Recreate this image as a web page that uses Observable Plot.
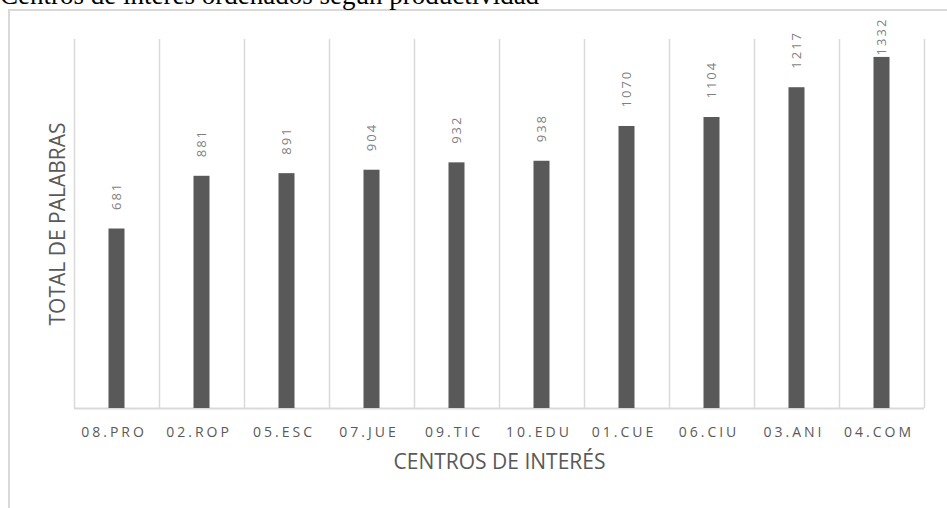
<!DOCTYPE html>
<html><head><meta charset="utf-8">
<script src="https://cdn.jsdelivr.net/npm/d3@7"></script>
<script src="https://cdn.jsdelivr.net/npm/@observablehq/plot@0.6"></script>
<style>
html,body{margin:0;padding:0;background:#fff;overflow:hidden;width:947px;height:508px}
#wrap{position:relative;width:947px;height:508px;overflow:hidden}
#frame{position:absolute;left:8px;top:9px;width:2000px;height:2000px;border-left:2px solid #d9d9d9;border-top:2px solid #d9d9d9}
#title{position:absolute;left:0;top:-18px;font:27px/27px "Liberation Serif",serif;color:#000;white-space:nowrap}
#chart{position:absolute;left:0;top:0}
#chart g[aria-label="x-axis tick label"] text{letter-spacing:3px}
</style></head><body>
<div id="wrap"><div id="frame"></div><div id="title">Centros de interés ordenados según productividad</div><div id="chart"></div></div>
<script>
const categories = ["08.PRO","02.ROP","05.ESC","07.JUE","09.TIC","10.EDU","01.CUE","06.CIU","03.ANI","04.COM"];
const values = [681, 881, 891, 904, 932, 938, 1070, 1104, 1217, 1332];
const yDomain = [0, 1400];
const xTitle = "CENTROS DE INTERÉS";
const yTitle = "TOTAL DE PALABRAS";

const data = categories.map((c, i) => ({cat: c, value: values[i]}));
const W = 947, H = 508, mL = 74, mR = 23;
const step = (W - mL - mR) / categories.length;
const barW = 16;
const grid = {stroke: "#d9d9d9", strokeWidth: 1.5, strokeOpacity: 1};
const lbl = {x: "cat", y: "value", text: d => String(d.value), rotate: -90, textAnchor: "start", fill: "#7f7f7f", fontSize: 13};

const plot = Plot.plot({
  width: W, height: H, marginLeft: mL, marginRight: mR, marginTop: 39, marginBottom: 100,
  style: {background: "transparent", fontFamily: "'Open Sans', sans-serif", overflow: "visible"},
  x: {domain: categories, padding: 0, axis: null},
  y: {domain: yDomain, axis: null},
  marks: [
    Plot.ruleX(categories, {x: d => d, dx: -step / 2, ...grid}),
    Plot.ruleX(categories.slice(-1), {x: d => d, dx: step / 2, ...grid}),
    Plot.ruleY([0], {stroke: "#d9d9d9", strokeWidth: 2}),
    Plot.barY(data, {x: "cat", y: "value", fill: "#595959", insetLeft: (step - barW) / 2, insetRight: (step - barW) / 2}),
    Plot.text(data.filter(d => d.value < 1300), {...lbl, dy: -19}),
    Plot.text(data.filter(d => d.value >= 1300), {...lbl, dy: -2}),
    Plot.axisX({tickSize: 0, tickPadding: 19, dx: -3, fontSize: 14, color: "#595959", label: null}),
    Plot.text([xTitle], {frameAnchor: "bottom", dy: 60, fontSize: 21, fill: "#595959"}),
    Plot.text([yTitle], {frameAnchor: "left", rotate: -90, textAnchor: "middle", dx: -16, fontSize: 21, fill: "#595959"})
  ]
});
document.getElementById("chart").appendChild(plot);
const tg = plot.querySelectorAll('g[aria-label="text"]');
[tg[0], tg[1]].forEach(g => g && g.querySelectorAll("text").forEach(t => t.style.letterSpacing = "2px"));
</script>
</body></html>
